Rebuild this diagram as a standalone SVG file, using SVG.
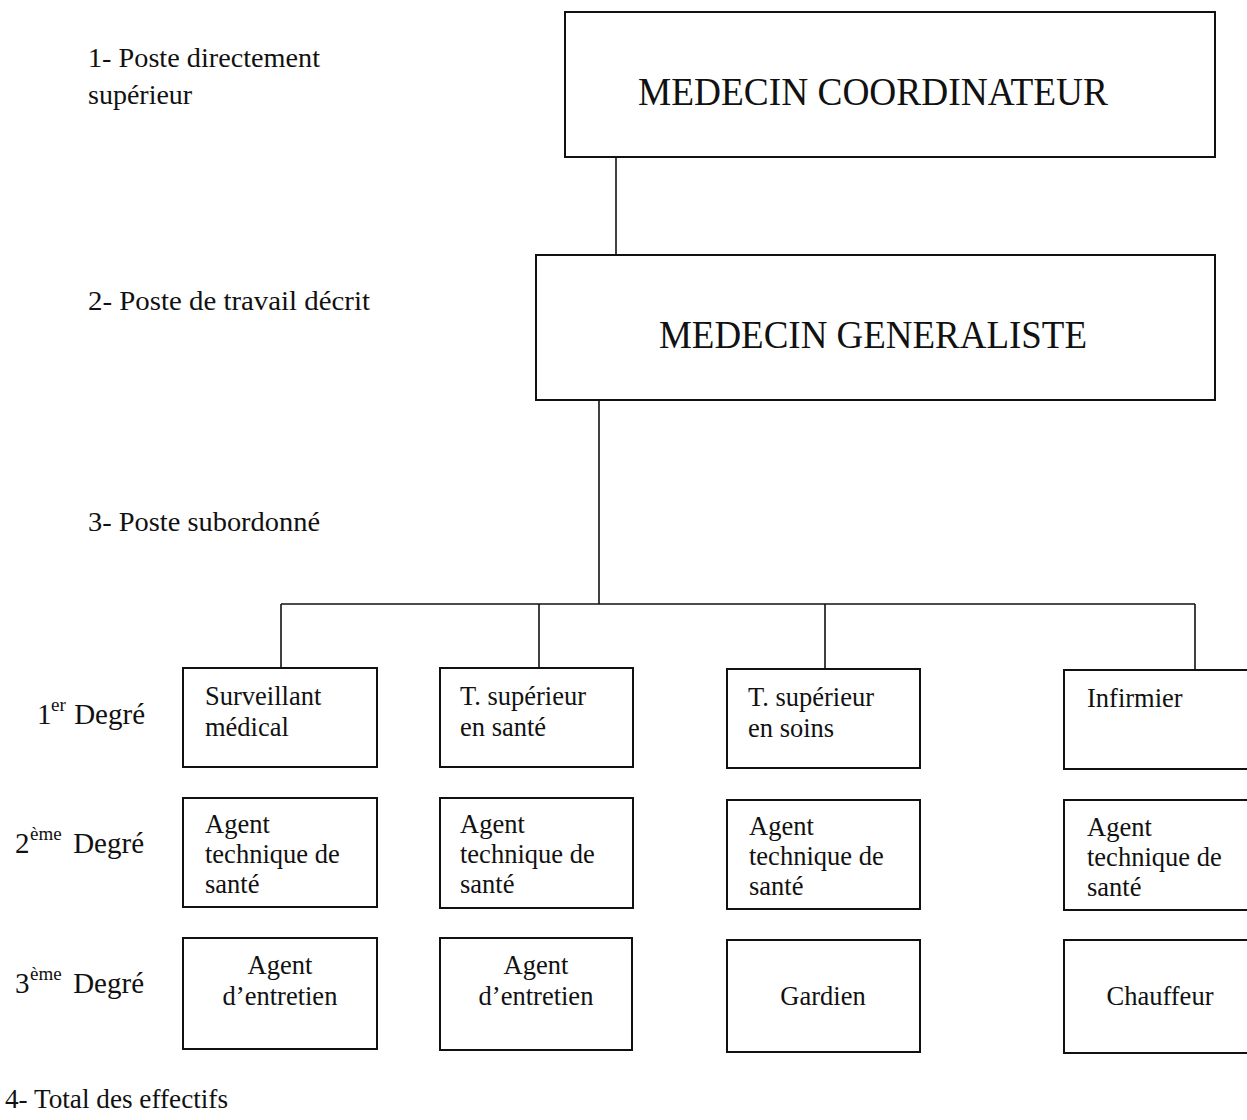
<svg xmlns="http://www.w3.org/2000/svg" width="1247" height="1120" viewBox="0 0 1247 1120">
<style>
text{font-family:"Liberation Serif","Times New Roman",serif;fill:#111;}
.box{fill:#fff;stroke:#111;stroke-width:2;}
.ln{fill:none;stroke:#111;stroke-width:1.6;}
.lbl{font-size:28px;}
.deg{font-size:29px;}
.big{font-size:40px;}
.t{font-size:26.5px;}
.sup{font-size:19px;}
</style>
<rect width="1247" height="1120" fill="#fff"/>
<g id="labels">
<text class="lbl" x="88" y="67" textLength="232" lengthAdjust="spacingAndGlyphs">1- Poste directement</text>
<text class="lbl" x="88" y="104">supérieur</text>
<text class="lbl" x="88" y="310" textLength="282" lengthAdjust="spacingAndGlyphs">2- Poste de travail décrit</text>
<text class="lbl" x="88" y="531" textLength="232" lengthAdjust="spacingAndGlyphs">3- Poste subordonné</text>
<text class="deg" x="37" y="724">1</text><text class="sup" x="51" y="711">er</text><text class="deg" x="145" y="724" text-anchor="end">Degré</text>
<text class="deg" x="15" y="853">2</text><text class="sup" x="30" y="840">ème</text><text class="deg" x="144" y="853" text-anchor="end">Degré</text>
<text class="deg" x="15" y="993">3</text><text class="sup" x="30" y="980">ème</text><text class="deg" x="144" y="993" text-anchor="end">Degré</text>
<text class="lbl" x="5" y="1108" textLength="223" lengthAdjust="spacingAndGlyphs">4- Total des effectifs</text>
</g>
<g id="connectors">
<line class="ln" x1="616" y1="157" x2="616" y2="255"/>
<line class="ln" x1="599" y1="400" x2="599" y2="604"/>
<line class="ln" x1="281" y1="604" x2="1195" y2="604"/>
<line class="ln" x1="281" y1="604" x2="281" y2="668"/>
<line class="ln" x1="539" y1="604" x2="539" y2="668"/>
<line class="ln" x1="825" y1="604" x2="825" y2="669"/>
<line class="ln" x1="1195" y1="604" x2="1195" y2="670"/>
</g>
<g id="medecin-coordinateur">
<rect class="box" x="565" y="12" width="650" height="145"/>
<text class="big" x="873" y="105" text-anchor="middle" textLength="470" lengthAdjust="spacingAndGlyphs">MEDECIN COORDINATEUR</text>
</g>
<g id="medecin-generaliste">
<rect class="box" x="536" y="255" width="679" height="145"/>
<text class="big" x="873" y="348" text-anchor="middle" textLength="428" lengthAdjust="spacingAndGlyphs">MEDECIN GENERALISTE</text>
</g>
<g id="surveillant">
<rect class="box" x="183" y="668" width="194" height="99"/>
<text class="t" x="205" y="705">Surveillant</text>
<text class="t" x="205" y="736">médical</text>
</g>
<g id="ts-sante">
<rect class="box" x="440" y="668" width="193" height="99"/>
<text class="t" x="460" y="705">T. supérieur</text>
<text class="t" x="460" y="736">en santé</text>
</g>
<g id="ts-soins">
<rect class="box" x="727" y="669" width="193" height="99"/>
<text class="t" x="748" y="706">T. supérieur</text>
<text class="t" x="748" y="737">en soins</text>
</g>
<g id="infirmier">
<rect class="box" x="1064" y="670" width="200" height="99"/>
<text class="t" x="1087" y="707">Infirmier</text>
</g>
<g id="ats-1">
<rect class="box" x="183" y="798" width="194" height="109"/>
<text class="t" x="205" y="833">Agent</text>
<text class="t" x="205" y="863">technique de</text>
<text class="t" x="205" y="893">santé</text>
</g>
<g id="ats-2">
<rect class="box" x="440" y="798" width="193" height="110"/>
<text class="t" x="460" y="833">Agent</text>
<text class="t" x="460" y="863">technique de</text>
<text class="t" x="460" y="893">santé</text>
</g>
<g id="ats-3">
<rect class="box" x="727" y="800" width="193" height="109"/>
<text class="t" x="749" y="835">Agent</text>
<text class="t" x="749" y="865">technique de</text>
<text class="t" x="749" y="895">santé</text>
</g>
<g id="ats-4">
<rect class="box" x="1064" y="800" width="200" height="110"/>
<text class="t" x="1087" y="836">Agent</text>
<text class="t" x="1087" y="866">technique de</text>
<text class="t" x="1087" y="896">santé</text>
</g>
<g id="entretien-1">
<rect class="box" x="183" y="938" width="194" height="111"/>
<text class="t" x="280" y="974" text-anchor="middle">Agent</text>
<text class="t" x="280" y="1005" text-anchor="middle">d’entretien</text>
</g>
<g id="entretien-2">
<rect class="box" x="440" y="938" width="192" height="112"/>
<text class="t" x="536" y="974" text-anchor="middle">Agent</text>
<text class="t" x="536" y="1005" text-anchor="middle">d’entretien</text>
</g>
<g id="gardien">
<rect class="box" x="727" y="940" width="193" height="112"/>
<text class="t" x="823" y="1005" text-anchor="middle">Gardien</text>
</g>
<g id="chauffeur">
<rect class="box" x="1064" y="940" width="200" height="113"/>
<text class="t" x="1160" y="1005" text-anchor="middle">Chauffeur</text>
</g>
</svg>
